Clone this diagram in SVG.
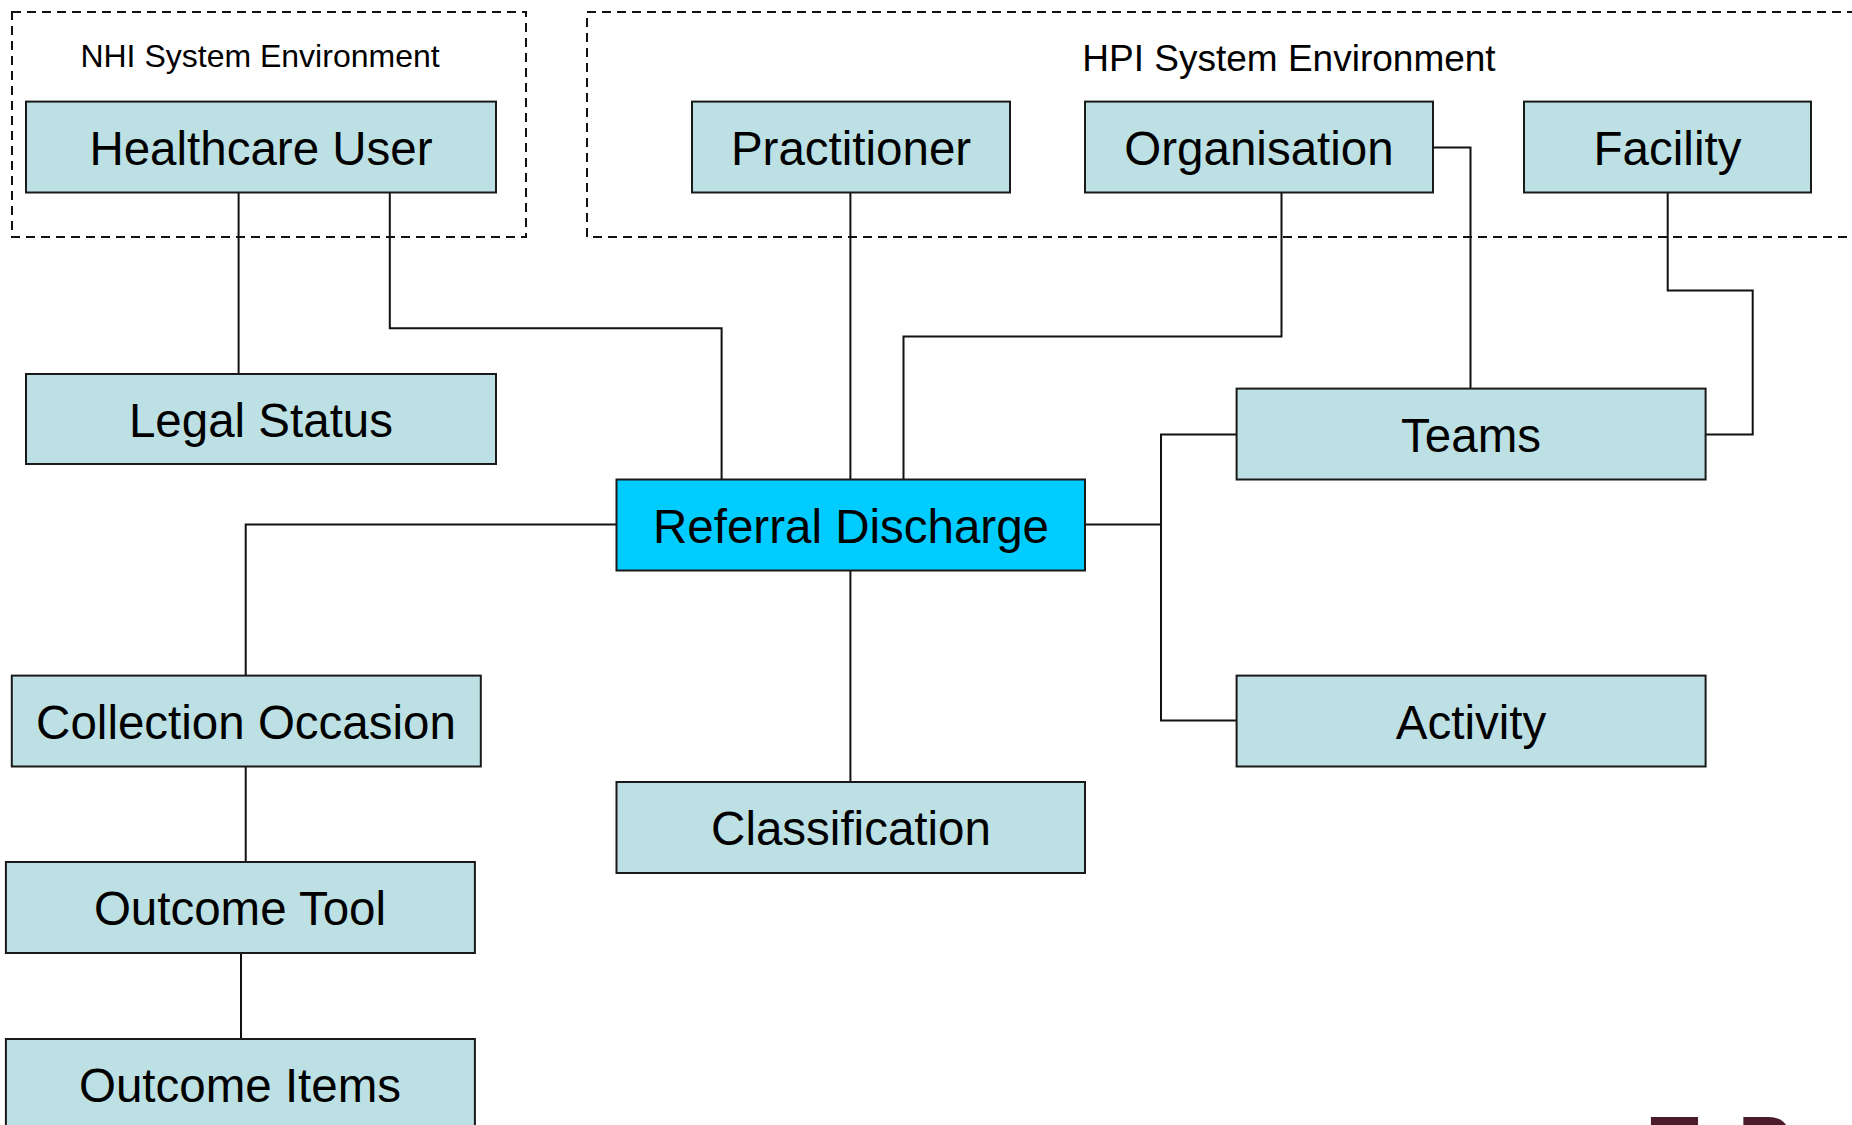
<svg xmlns="http://www.w3.org/2000/svg" width="1852" height="1125" viewBox="0 0 1852 1125">
<style>
.env{fill:none;stroke:#111;stroke-width:2;stroke-dasharray:9 6}
.box{fill:#bce0e3;stroke:#1a1a1a;stroke-width:2}
.main{fill:#00ccff;stroke:#1a1a1a;stroke-width:2}
.lbl{font-family:"Liberation Sans",Arial,sans-serif;font-size:47.5px;fill:#000;text-anchor:middle}
.env-lbl{font-family:"Liberation Sans",Arial,sans-serif;fill:#000;text-anchor:middle}
.conn{fill:none;stroke:#111;stroke-width:2}
</style>
<rect width="1852" height="1125" fill="#fff"/>
<g id="env-nhi">
<rect class="env" x="12" y="12" width="514" height="225"/>
<text class="env-lbl" x="260" y="67" font-size="32">NHI System Environment</text>
</g>
<g id="env-hpi">
<rect class="env" x="587" y="12" width="1290" height="225"/>
<text class="env-lbl" x="1289" y="71" font-size="37">HPI System Environment</text>
</g>
<g id="connectors">
<path class="conn" d="M238.6 192.5V374"/>
<path class="conn" d="M389.8 192.5V328.3H721.6V479.5"/>
<path class="conn" d="M850.4 192.5V479.5"/>
<path class="conn" d="M1281.5 192.5V336.6H903.5V479.5"/>
<path class="conn" d="M1433 147.6H1470.5V388.6"/>
<path class="conn" d="M1667.7 192.5V290.5H1752.7V434.6H1705.5"/>
<path class="conn" d="M616.5 524.4H245.7V675.6"/>
<path class="conn" d="M1085 524.4H1161"/>
<path class="conn" d="M1236.6 434.6H1161V720.5H1236.6"/>
<path class="conn" d="M850.4 570.5V782"/>
<path class="conn" d="M245.7 766.5V862"/>
<path class="conn" d="M241 953V1039"/>
</g>
<g id="healthcare-user"><rect class="box" x="26" y="101.6" width="470" height="90.9"/><text class="lbl" x="261" y="165">Healthcare User</text></g>
<g id="practitioner"><rect class="box" x="692" y="101.6" width="318" height="90.9"/><text class="lbl" x="851" y="165">Practitioner</text></g>
<g id="organisation"><rect class="box" x="1085" y="101.6" width="348" height="90.9"/><text class="lbl" x="1259" y="165">Organisation</text></g>
<g id="facility"><rect class="box" x="1524" y="101.6" width="287" height="90.9"/><text class="lbl" x="1667.5" y="165">Facility</text></g>
<g id="legal-status"><rect class="box" x="26" y="374" width="470" height="90"/><text class="lbl" x="261" y="437">Legal Status</text></g>
<g id="teams"><rect class="box" x="1236.6" y="388.6" width="469" height="90.9"/><text class="lbl" x="1471" y="452">Teams</text></g>
<g id="referral-discharge"><rect class="main" x="616.5" y="479.5" width="468.5" height="91"/><text class="lbl" x="851" y="543">Referral Discharge</text></g>
<g id="collection-occasion"><rect class="box" x="11.8" y="675.6" width="469" height="90.9"/><text class="lbl" x="246" y="739">Collection Occasion</text></g>
<g id="activity"><rect class="box" x="1236.6" y="675.6" width="469" height="90.9"/><text class="lbl" x="1471" y="739">Activity</text></g>
<g id="classification"><rect class="box" x="616.5" y="782" width="468.5" height="91"/><text class="lbl" x="851" y="845">Classification</text></g>
<g id="outcome-tool"><rect class="box" x="5.9" y="862" width="469" height="91"/><text class="lbl" x="240" y="925">Outcome Tool</text></g>
<g id="outcome-items"><rect class="box" x="5.9" y="1039" width="469" height="100"/><text class="lbl" x="240" y="1102">Outcome Items</text></g>
<g id="logo"><text y="1172" font-family="'Liberation Sans',Arial,sans-serif" font-weight="bold" font-size="80" fill="#4b1c2c"><tspan x="1650">Te</tspan><tspan x="1738">Pou</tspan></text></g>
</svg>
